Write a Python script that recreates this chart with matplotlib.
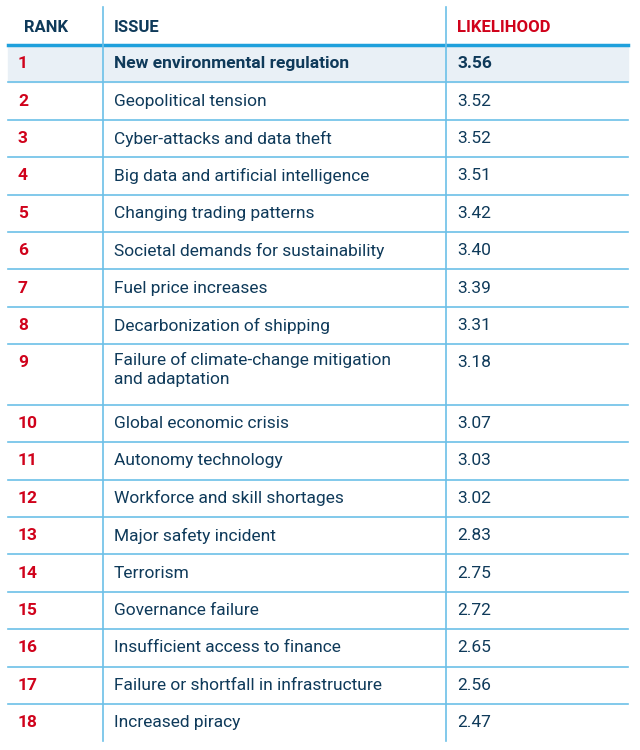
import matplotlib.pyplot as plt

plt.rcParams['font.family'] = 'Roboto'

ranks = list(range(1, 19))
issues = [
    'New environmental regulation', 'Geopolitical tension', 'Cyber-attacks and data theft',
    'Big data and artificial intelligence', 'Changing trading patterns',
    'Societal demands for sustainability', 'Fuel price increases', 'Decarbonization of shipping',
    'Failure of climate-change mitigation\nand adaptation', 'Global economic crisis',
    'Autonomy technology', 'Workforce and skill shortages', 'Major safety incident', 'Terrorism',
    'Governance failure', 'Insufficient access to finance', 'Failure or shortfall in infrastructure',
    'Increased piracy',
]
likelihood = [3.56, 3.52, 3.52, 3.51, 3.42, 3.40, 3.39, 3.31, 3.18, 3.07,
              3.03, 3.02, 2.83, 2.75, 2.72, 2.65, 2.56, 2.47]

navy = '#0f3a5a'
red = '#d0021b'
line_blue = '#6cc0e8'
head_blue = '#1fa0dc'

fig = plt.figure(figsize=(6.4, 7.5), dpi=100)
ax = fig.add_axes([0, 0, 1, 1])
ax.set_xlim(0, 640)
ax.set_ylim(750, 0)
ax.axis('off')

x0, x1, x2, x3 = 8, 103, 446, 628
row_h = 37.4
top = 45

# header
ax.text(24, 27, 'RANK', color=navy, fontsize=12, fontweight='bold', va='center')
ax.text(114, 27, 'ISSUE', color=navy, fontsize=12, fontweight='bold', va='center')
ax.text(457, 27, 'LIKELIHOOD', color=red, fontsize=12, fontweight='bold', va='center')

y = top
for r, issue, v in zip(ranks, issues, likelihood):
    h = row_h * (1.62 if '\n' in issue else 1)
    if r == 1:
        ax.fill_between([x0, x3], y, y + h, color='#e9f0f6', zorder=0)
    bold = 'bold' if r == 1 else 'normal'
    ty = y + row_h / 2
    ax.text(18, ty, str(r), color=red, fontsize=12.5, fontweight='bold', va='center')
    ax.text(114, ty - 11 if '\n' in issue else ty, issue, color=navy, fontsize=12.5,
            fontweight=bold, va='top' if '\n' in issue else 'center', linespacing=1.35)
    ax.text(457, ty, f'{v:.2f}', color=navy, fontsize=12.5, fontweight=bold, va='center')
    y += h
    if r < 18:
        ax.plot([x0, x3], [y, y], color=line_blue, lw=1.2)

ax.plot([x0, x3], [top, top], color=head_blue, lw=2.5)
for x in (x1, x2):
    ax.plot([x, x], [7, y], color=line_blue, lw=1.2)

fig.savefig('out.png', dpi=100)
